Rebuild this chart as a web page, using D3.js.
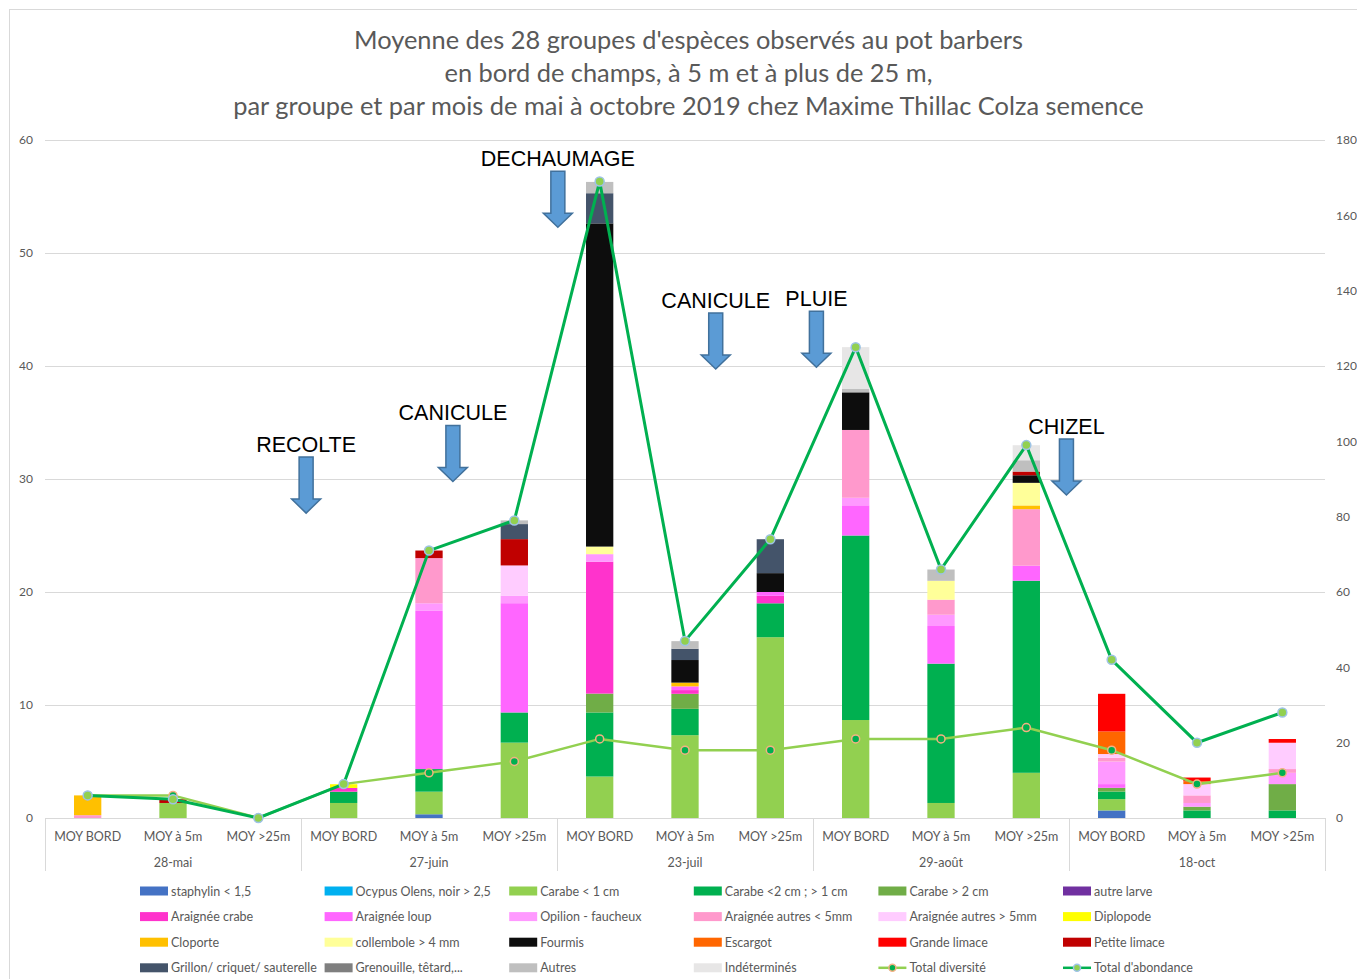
<!DOCTYPE html>
<html><head><meta charset="utf-8">
<script src="https://cdn.jsdelivr.net/npm/d3@7"></script>
<style>body{margin:0;background:#fff}</style>
</head><body><svg id="c" width="1357" height="979"></svg>
<script>
// ---------- DATA ----------
const groups = ["28-mai", "27-juin", "23-juil", "29-août", "18-oct"];
const positions = ["MOY BORD", "MOY à 5m", "MOY >25m"];
const titleLines = [
  "Moyenne des 28 groupes d'espèces observés au pot barbers",
  "en bord de champs, à 5 m et à plus de 25 m,",
  "par groupe et par mois de mai à octobre 2019 chez Maxime Thillac Colza semence"
];
const leftTicks = [0, 10, 20, 30, 40, 50, 60];
const rightTicks = [0, 20, 40, 60, 80, 100, 120, 140, 160, 180];

// one value per bar: 28-mai (BORD,5m,>25m), 27-juin, 23-juil, 29-août, 18-oct
const staphylin     = [0,0,0,    0,0.33,0,     0,0,0,          0,0,0,          0.67,0,0];
const ocypus        = [0,0,0,    0,0,0,        0,0,0,          0,0,0,          0,0,0];
const carabePetit   = [0,1.33,0, 1.33,2,6.67,  3.67,7.33,16,   8.67,1.33,4,    1,0,0];
const carabeMoyen   = [0,0,0,    1,2,2.67,     5.67,2.33,3,    16.33,12.33,17, 0.67,0.67,0.67];
const carabeGrand   = [0,0,0,    0,0,0,        1.67,1.33,0,    0,0,0,          0.33,0.33,2.33];
const autreLarve    = [0,0,0,    0,0,0,        0,0,0,          0,0,0,          0,0,0];
const araigneeCrabe = [0,0,0,    0.33,0,0,     11.67,0.33,0.67,0,0,0,          0,0,0];
const araigneeLoup  = [0,0,0,    0,14,9.67,    0,0.33,0.33,    2.67,3.33,1.33, 0.33,0,0];
const opilion       = [0,0,0,    0,0.67,0.67,  0.67,0,0,       0.67,1,0,       2,0.33,1];
const araigneePetit = [0.25,0,0, 0,4,0,        0,0,0,          6,1.33,5,       0.33,0.67,0.33];
const araigneeGrand = [0,0,0,    0,0,2.67,     0,0,0,          0,0,0,          0.33,1,2.33];
const diplopode     = [0,0,0,    0.33,0,0,     0,0,0,          0,0,0,          0,0,0];
const cloporte      = [1.75,0,0, 0,0,0,        0,0.33,0,       0,0,0.33,       0,0,0];
const collembole    = [0,0,0,    0,0,0,        0.67,0,0,       0,1.67,2,       0,0,0];
const fourmis       = [0,0,0,    0,0,0,        28.6,2,1.67,    3.33,0,0.67,    0,0,0];
const escargot      = [0,0,0,    0,0,0,        0,0,0,          0,0,0,          2,0.25,0];
const grandeLimace  = [0,0,0,    0,0,0,        0,0,0,          0,0,0,          3.33,0.33,0.33];
const petiteLimace  = [0,0.33,0, 0,0.67,2.33,  0,0,0,          0,0,0.33,       0,0,0];
const grillon       = [0,0,0,    0,0,1.33,     2.67,1,3,       0,0,0,          0,0,0];
const grenouille    = [0,0,0,    0,0,0,        0,0,0,          0,0,0,          0,0,0];
const autres        = [0,0,0,    0,0,0.33,     1,0.67,0,       0.33,1,1,       0,0,0];
const indetermines  = [0,0,0,    0,0,0,        0,0,0,          3.67,0,1.33,    0,0,0];

const totalDiversite = [6,6,0,  9,12,15,  21,18,18,  21,21,24,  18,9,12];
const totalAbondance = [6,5,0,  9,71,79,  169,47,74, 125,66,99, 42,20,28];

const seriesNames = ["staphylin < 1,5","Ocypus Olens, noir > 2,5","Carabe < 1 cm","Carabe <2 cm ; > 1 cm","Carabe > 2 cm","autre larve",
  "Araignée crabe","Araignée loup","Opilion - faucheux","Araignée autres < 5mm","Araignée autres > 5mm","Diplopode",
  "Cloporte","collembole > 4 mm","Fourmis","Escargot","Grande limace","Petite limace",
  "Grillon/ criquet/ sauterelle","Grenouille, têtard,...","Autres","Indéterminés"];
const seriesValues = [staphylin, ocypus, carabePetit, carabeMoyen, carabeGrand, autreLarve,
  araigneeCrabe, araigneeLoup, opilion, araigneePetit, araigneeGrand, diplopode,
  cloporte, collembole, fourmis, escargot, grandeLimace, petiteLimace,
  grillon, grenouille, autres, indetermines];
const seriesColors = ["#4472C4","#00B0F0","#92D050","#00B050","#70AD47","#7030A0",
  "#FF33CC","#FF66FF","#FF99FF","#FF99CC","#FFCCFF","#FFFF00",
  "#FFC000","#FFFF99","#0D0D0D","#FF6600","#FF0000","#C00000",
  "#44546A","#7F7F7F","#BFBFBF","#E7E6E6"];

// annotations: label, position along the category axis (in bar steps from the first bar), left-axis level
const annotations = [
  {label:"RECOLTE", at:2.56, level:33.0},
  {label:"CANICULE", at:4.28, level:35.8},
  {label:"DECHAUMAGE", at:5.51, level:58.3},
  {label:"CANICULE", at:7.36, level:45.75},
  {label:"PLUIE", at:8.54, level:45.9},
  {label:"CHIZEL", at:11.47, level:34.6}
];

// ---------- CHART ----------
const svg = d3.select("#c");
const FONT = "Lato, 'Open Sans', sans-serif";
const GREY = "#595959";
const GRID = "#D9D9D9";

svg.append("rect").attr("x",9.5).attr("y",9.5).attr("width",1420).attr("height",1020)
  .attr("fill","#fff").attr("stroke",GRID);

const cats = groups.flatMap(g => positions.map(p => g + "|" + p));
const x = d3.scaleBand().domain(cats).range([45,1325]).paddingInner(0.68).paddingOuter(0.34);
const yL = d3.scaleLinear().domain([0,60]).range([818,140]);
const yR = d3.scaleLinear().domain([0,180]).range([818,140]);
const bw = x.bandwidth();
const cx = i => x(cats[i]) + bw/2;
const step = x.step();

// title
svg.append("g").selectAll("text").data(titleLines).join("text")
  .attr("x",688.5).attr("y",(d,i)=>39+i*33).attr("text-anchor","middle").attr("dominant-baseline","central")
  .attr("font-family",FONT).attr("font-size",25.4).attr("fill",GREY).text(d=>d);

// grid
svg.append("g").selectAll("line").data(leftTicks).join("line")
  .attr("x1",45).attr("x2",1325).attr("y1",d=>Math.round(yL(d))+0.5).attr("y2",d=>Math.round(yL(d))+0.5)
  .attr("stroke",GRID).attr("stroke-width",1);

// axes
const axL = svg.append("g").attr("transform","translate(33,0)")
  .call(d3.axisLeft(yL).tickValues(leftTicks).tickSize(0).tickPadding(0));
const axR = svg.append("g").attr("transform","translate(1336,0)")
  .call(d3.axisRight(yR).tickValues(rightTicks).tickSize(0).tickPadding(0));
[axL,axR].forEach(a=>{
  a.select(".domain").remove();
  a.selectAll("text").attr("font-family",FONT).attr("font-size",12).attr("fill",GREY);
});

// category axis
const gx = svg.append("g");
gx.selectAll("text.pos").data(cats).join("text").attr("class","pos")
  .attr("x",(d,i)=>cx(i)).attr("y",836).attr("text-anchor","middle").attr("dominant-baseline","central")
  .attr("font-family",FONT).attr("font-size",12.5).attr("fill",GREY).text(d=>d.split("|")[1]);
gx.selectAll("text.grp").data(groups).join("text").attr("class","grp")
  .attr("x",(d,i)=>cx(i*3+1)).attr("y",862).attr("text-anchor","middle").attr("dominant-baseline","central")
  .attr("font-family",FONT).attr("font-size",12.5).attr("fill",GREY).text(d=>d);
const bounds = d3.range(groups.length+1).map(i => i < groups.length ? x(cats[i*3]) - step*x.paddingInner()/2 : 1325);
bounds[0] = 45;
gx.selectAll("line").data(bounds).join("line")
  .attr("x1",d=>Math.round(d)+0.5).attr("x2",d=>Math.round(d)+0.5).attr("y1",818).attr("y2",871)
  .attr("stroke",GRID);

// stacked bars
const rows = cats.map((c,i) => {
  const r = {cat:c};
  seriesNames.forEach((n,k) => r[n] = seriesValues[k][i]);
  return r;
});
const stacked = d3.stack().keys(seriesNames)(rows);
svg.append("g").selectAll("g").data(stacked).join("g")
  .attr("fill",(d,k)=>seriesColors[k])
  .selectAll("rect").data(d=>d).join("rect")
  .attr("x",d=>x(d.data.cat)).attr("width",bw)
  .attr("y",d=>yL(d[1])).attr("height",d=>Math.max(0,yL(d[0])-yL(d[1])));

// lines
const lineR = d3.line().x((d,i)=>cx(i)).y(d=>yR(d));
svg.append("path").datum(totalDiversite).attr("d",lineR).attr("fill","none")
  .attr("stroke","#92D050").attr("stroke-width",2.5);
svg.append("g").selectAll("circle").data(totalDiversite).join("circle")
  .attr("cx",(d,i)=>cx(i)).attr("cy",d=>yR(d)).attr("r",4)
  .attr("fill","#00B050").attr("stroke","#F4B183").attr("stroke-width",1.5);
svg.append("path").datum(totalAbondance).attr("d",lineR).attr("fill","none")
  .attr("stroke","#00B050").attr("stroke-width",3);
svg.append("g").selectAll("circle").data(totalAbondance).join("circle")
  .attr("cx",(d,i)=>cx(i)).attr("cy",d=>yR(d)).attr("r",4.5)
  .attr("fill","#92D050").attr("stroke","#9DC3E6").attr("stroke-width",1.5);

// annotations
const ga = svg.append("g");
annotations.forEach(a => {
  const ax = cx(0) + a.at*step;
  const ty = yL(a.level);
  ga.append("text").attr("x",ax).attr("y",ty).attr("text-anchor","middle").attr("dominant-baseline","central")
    .attr("font-family","'Liberation Sans', Arial, sans-serif").attr("font-size",21.5).attr("fill","#000").text(a.label);
  const top = ty + 12, bot = top + 56, hs = 7, hh = 14.5, hl = 14;
  ga.append("path")
    .attr("d",`M${ax-hs},${top}L${ax+hs},${top}L${ax+hs},${bot-hl}L${ax+hh},${bot-hl}L${ax},${bot}L${ax-hh},${bot-hl}L${ax-hs},${bot-hl}Z`)
    .attr("fill","#5B9BD5").attr("stroke","#41719C").attr("stroke-width",1.5);
});

// legend
const legendItems = seriesNames.map((n,k)=>({name:n,color:seriesColors[k],type:"bar"}))
  .concat([{name:"Total diversité",type:"line",line:"#92D050",mf:"#00B050",ms:"#F4B183"},
           {name:"Total d'abondance",type:"line",line:"#00B050",mf:"#92D050",ms:"#9DC3E6"}]);
const lg = svg.append("g");
legendItems.forEach((it,i) => {
  const col = i % 6, row = Math.floor(i / 6);
  const lx = 140 + col*184.6, ly = 891 + row*25.6;
  if (it.type === "bar") {
    lg.append("rect").attr("x",lx).attr("y",ly-4.5).attr("width",28).attr("height",9).attr("fill",it.color);
  } else {
    lg.append("line").attr("x1",lx).attr("x2",lx+28).attr("y1",ly).attr("y2",ly).attr("stroke",it.line).attr("stroke-width",2.5);
    lg.append("circle").attr("cx",lx+14).attr("cy",ly).attr("r",3.5).attr("fill",it.mf).attr("stroke",it.ms).attr("stroke-width",1.5);
  }
  lg.append("text").attr("x",lx+31).attr("y",ly).attr("dominant-baseline","central")
    .attr("font-family",FONT).attr("font-size",12.5).attr("fill",GREY).text(it.name);
});
</script>
</body></html>
